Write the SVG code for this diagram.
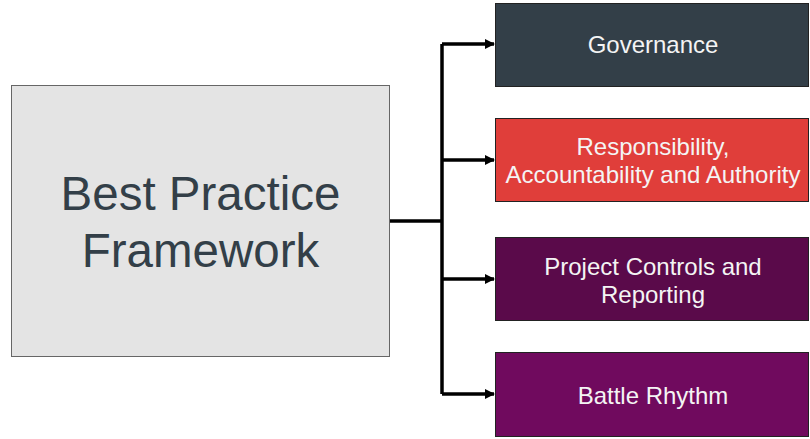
<svg xmlns="http://www.w3.org/2000/svg" width="810" height="439" viewBox="0 0 810 439">
<style>
.box{stroke:#222;stroke-width:1}
.t{font-family:"Liberation Sans",Arial,sans-serif;font-size:24px;fill:#F4F4F4;text-anchor:middle}
.big{font-family:"Liberation Sans",Arial,sans-serif;font-size:47.5px;fill:#333F48;text-anchor:middle}
.c{fill:none;stroke:#000;stroke-width:3.5}
</style>
<defs>
<marker id="ah" markerWidth="10" markerHeight="10" refX="9" refY="5" orient="auto" markerUnits="userSpaceOnUse" viewBox="0 0 10 10">
<path d="M0,0 L10,5 L0,10 Z" fill="#000"/>
</marker>
</defs>
<rect width="810" height="439" fill="#fff"/>
<g id="connectors">
<path class="c" d="M390,221 H442"/>
<path class="c" d="M442,44 V394"/>
<path class="c" d="M442,44 H494" marker-end="url(#ah)"/>
<path class="c" d="M442,160 H494" marker-end="url(#ah)"/>
<path class="c" d="M442,279 H494" marker-end="url(#ah)"/>
<path class="c" d="M442,394 H494" marker-end="url(#ah)"/>
</g>
<g id="framework">
<rect x="11.5" y="85.5" width="378" height="271" fill="#E4E4E4" stroke="#666" stroke-width="1"/>
<text class="big" x="200.5" y="210">Best Practice</text>
<text class="big" x="200.5" y="267">Framework</text>
</g>
<g id="governance">
<rect class="box" x="495.5" y="3.5" width="313" height="83" fill="#333F48"/>
<text class="t" x="653" y="53">Governance</text>
</g>
<g id="responsibility">
<rect class="box" x="495.5" y="118.5" width="313" height="83" fill="#E03E3A"/>
<text class="t" x="653" y="155">Responsibility,</text>
<text class="t" x="653" y="183">Accountability and Authority</text>
</g>
<g id="controls">
<rect class="box" x="495.5" y="237.5" width="313" height="83" fill="#5A0A4A"/>
<text class="t" x="653" y="275">Project Controls and</text>
<text class="t" x="653" y="303">Reporting</text>
</g>
<g id="battle">
<rect class="box" x="495.5" y="352.5" width="313" height="84" fill="#700A5E"/>
<text class="t" x="653" y="404">Battle Rhythm</text>
</g>
</svg>
